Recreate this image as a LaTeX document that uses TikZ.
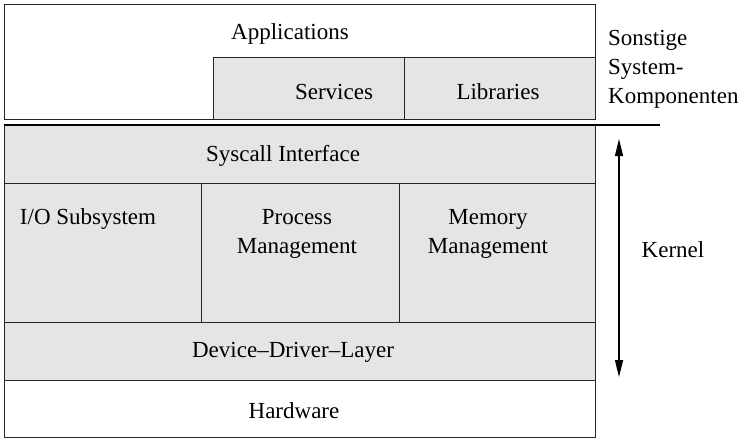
\documentclass[tikz,border=0pt]{standalone}
\usepackage{fontspec}
\setmainfont{Liberation Serif}
\usetikzlibrary{arrows.meta}
\usetikzlibrary{positioning}

\begin{document}
\begin{tikzpicture}[x=1pt, y=-1pt,
    every node/.style={font=\fontsize{23}{29}\selectfont},
    box/.style={draw=black!85, line width=1.4pt, fill=black!10,
      inner sep=0pt, anchor=north west},
    txt/.style={inner sep=0pt, align=center}]
  \useasboundingbox (0,0) rectangle (751,442);

  % system components
  \node [box, fill=white, minimum width=591pt, minimum height=115pt] (apps) at (4,4) {};
  \node [box, minimum width=191pt, minimum height=62pt] (services) at (213,57) {};
  \node [box, minimum width=191pt, minimum height=62pt] (libs) at (404,57) {};

  % kernel
  \node [box, minimum width=591pt, minimum height=58pt] (syscall) at (4,125) {};
  \node [box, minimum width=197pt, minimum height=139pt] (io) at (4,183) {};
  \node [box, minimum width=198pt, minimum height=139pt] (proc) at (201,183) {};
  \node [box, minimum width=196pt, minimum height=139pt] (mem) at (399,183) {};
  \node [box, minimum width=591pt, minimum height=58pt] (driver) at (4,322) {};
  \node [box, fill=white, minimum width=591pt, minimum height=57pt] (hw) at (4,380) {};

  % labels
  \node [txt] (appsText) at (290,33.5) {Applications};
  \node [txt] (servicesText) at (334,91.5) {Services};
  \node [txt] (libsText) at (498,91.5) {Libraries};
  \node [txt] (syscallText) at (283,155.5) {Syscall Interface};
  \node [txt] (ioText) at (88,218.5) {I/O Subsystem};
  \node [txt] (procText) at (297,233.5) {Process\\Management};
  \node [txt] (memText) at (488,233.5) {Memory\\Management};
  \node [txt] (driverText) at (293,352.5) {Device–Driver–Layer};
  \node [txt] (hwText) at (294,410.5) {Hardware};

  % right side
  \coordinate (sepEnd) at (660,125);
  \draw [line width=1.4pt] (syscall.north west) -- (sepEnd);
  \node [txt, align=left, anchor=west] (otherText) at (608,69) {Sonstige\\System-\\Komponenten};

  \coordinate (kTop) at (619,139);
  \coordinate (kBot) at (619,377);
  \draw [line width=1.3pt, {Triangle[length=17pt,width=8pt]}-{Triangle[length=17pt,width=8pt]}] (kTop) -- (kBot);
  \node [txt] (kernelText) at (673,249.5) {Kernel};
\end{tikzpicture}
\end{document}
